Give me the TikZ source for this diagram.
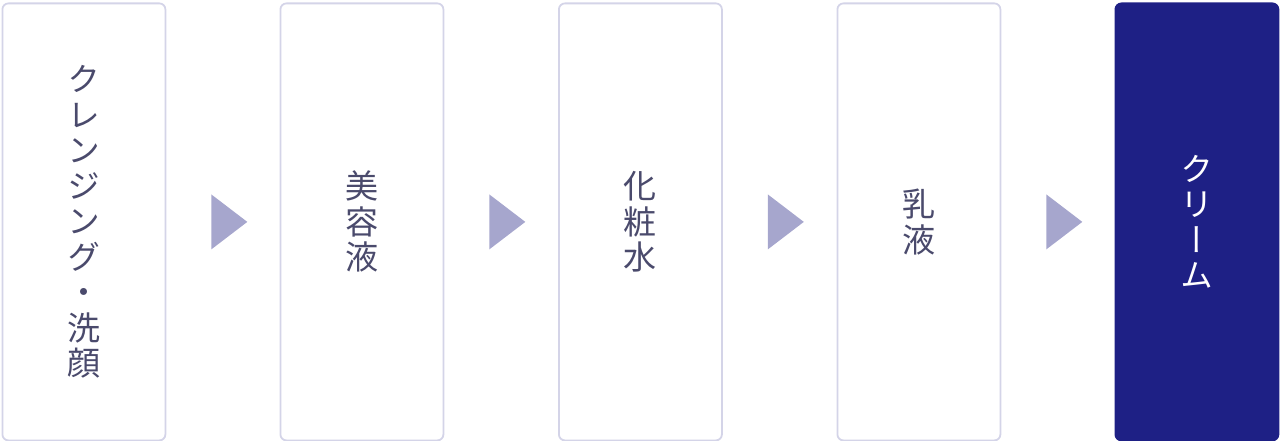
\documentclass[tikz,border=0pt]{standalone}
\usepackage{fontspec}
\newfontfamily\jp[RawFeature=+vert]{Noto Sans CJK JP}
\usetikzlibrary{calc}
\definecolor{txtc}{HTML}{4A4A6C}
\definecolor{bordc}{HTML}{D4D4E8}
\definecolor{arrc}{HTML}{A6A6CD}
\definecolor{navy}{HTML}{1E2085}
\tikzset{
  stepbox/.style={draw=bordc, line width=1.8pt, fill=white, rounded corners=6pt,
    minimum width=163pt, minimum height=437pt, inner sep=0pt, anchor=north west,
    text=txtc, align=center, font=\jp\fontsize{33}{35.5}\selectfont},
  lastbox/.style={stepbox, draw=navy, fill=navy, text=white},
  tri/.style={fill=arrc}
}
\begin{document}
\begin{tikzpicture}[x=1pt,y=-1pt]
\useasboundingbox (0,0) rectangle (1280,441);
\node[stepbox] (b1) at (1.5,2.5) {ク\\レ\\ン\\ジ\\ン\\グ\\・\\洗\\顔};
\node[stepbox] (b2) at (279.5,2.5) {美\\容\\液};
\node[stepbox] (b3) at (558,2.5) {化\\粧\\水};
\node[stepbox] (b4) at (836.5,2.5) {乳\\液};
\node[lastbox] (b5) at (1114.5,2.5) {ク\\リ\\ー\\ム};
\foreach \a/\b in {b1/t1,b2/t2,b3/t3,b4/t4}{
  \coordinate (\b) at ($(\a.east)+(45,0)$);
  \fill[tri] (\b) ++(0,-27.5) -- ++(36,27.5) -- ++(-36,27.5) -- cycle;
}
\end{tikzpicture}
\end{document}
